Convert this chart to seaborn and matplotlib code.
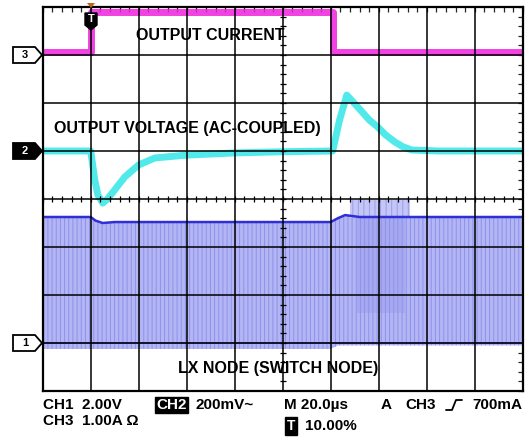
import numpy as np
import matplotlib.pyplot as plt
from matplotlib.patches import Polygon
from matplotlib.lines import Line2D
import seaborn as sns

# scope settings
T_PER_DIV = 20.0      # us / div
CUR_PER_DIV = 1.0     # A / div   (CH3)
VOUT_PER_DIV = 200.0  # mV / div  (CH2)
LX_PER_DIV = 2.0      # V / div   (CH1)
CUR_REF, VOUT_REF, LX_REF = 7, 5, 1   # ground markers (div)

# CH3 output current (A)
cur_t = [-20, 0, 0, 100.8, 100.8, 180]
cur_a = [0.07, 0.07, 0.9, 0.9, 0.07, 0.07]

# CH2 output voltage, ac-coupled (mV)
vout_t = [-20, 0, 1.7, 3, 5, 7, 10, 14.2, 20, 26.7, 40, 60, 80, 100.8,
          103.7, 106.7, 111.3, 116, 119.6, 123, 126.7, 130, 133.8, 145, 180]
vout_mv = [0, 0, -121, -183, -217, -200, -162, -108, -58, -29, -17, -8, -3, 0,
           129, 233, 183, 130, 100, 66, 38, 18, 4, 0, 0]

# CH1 LX switch node envelope (V)
lx_t = [-20, 0, 2, 5, 10, 100, 103, 106, 112, 180]
lx_top = [5.25, 5.25, 5.1, 5.0, 5.04, 5.04, 5.2, 5.33, 5.25, 5.25]
lx_bot = [-0.25, -0.25, -0.25, -0.25, -0.25, -0.25, -0.1, -0.1, -0.1, -0.1]
lx_burst_t = [108, 133]
lx_burst_top = [5.96, 5.96]
lx_dense_t = [111, 131]
lx_dense_lo = [1.25, 1.25]

W, H = 532, 437


def fx(px):
    return px / W


def fy(py):
    return 1 - py / H


sns.set_style("white")
plt.rcParams["font.family"] = ["Liberation Sans", "DejaVu Sans"]
plt.rcParams["hatch.linewidth"] = 0.7

fig = plt.figure(figsize=(W / 100, H / 100), dpi=100)
ax = fig.add_axes([fx(42.7), 1 - 391 / H, 480 / W, 384 / H])

t_cur = np.array(cur_t)
y_cur = CUR_REF + np.array(cur_a) / CUR_PER_DIV
y_vout = VOUT_REF + np.array(vout_mv) / VOUT_PER_DIV
y_lx_top = LX_REF + np.array(lx_top) / LX_PER_DIV
y_lx_bot = LX_REF + np.array(lx_bot) / LX_PER_DIV

# LX switching fill
ax.fill_between(lx_t, y_lx_bot, y_lx_top, facecolor="#b3b6f3", edgecolor="#8d91ec",
                hatch="||||", linewidth=0, zorder=1)
ax.fill_between(lx_burst_t, LX_REF + np.array(lx_burst_top) / LX_PER_DIV,
                [LX_REF + 5.2 / LX_PER_DIV] * 2, facecolor="#c4c6f5", edgecolor="#9a9eee",
                hatch="|||", linewidth=0, zorder=1)
ax.fill_between(lx_dense_t, LX_REF + np.array(lx_dense_lo) / LX_PER_DIV,
                [LX_REF + 5.25 / LX_PER_DIV] * 2, facecolor="#8f93ea", alpha=0.35,
                linewidth=0, zorder=1)
sns.lineplot(x=lx_t, y=y_lx_top, ax=ax, color="#2f2fd6", lw=1.8,
             estimator=None, sort=False, zorder=2)
sns.lineplot(x=lx_t, y=[LX_REF] * len(lx_t), ax=ax, color="#4a4ae0", lw=1.2,
             estimator=None, sort=False, zorder=2)

# output voltage
sns.lineplot(x=vout_t, y=y_vout, ax=ax, color="#34e6e8", lw=5, alpha=0.85,
             estimator=None, sort=False, zorder=3)
# output current
sns.lineplot(x=t_cur, y=y_cur, ax=ax, color="#ee22dd", lw=5, alpha=0.85,
             estimator=None, sort=False, zorder=3)

# graticule
ax.set_xlim(-20, 180)
ax.set_ylim(0, 8)
for k in range(1, 10):
    ax.axvline(-20 + k * T_PER_DIV, color="black", lw=1.1, zorder=5)
for k in range(1, 8):
    ax.axhline(k, color="black", lw=1.1, zorder=5)
for s in ax.spines.values():
    s.set_linewidth(1.6)
    s.set_color("black")
    s.set_zorder(6)
ax.set_xticks(np.arange(-20, 180.1, 4))
ax.set_yticks(np.arange(0, 8.01, 0.2))
ax.tick_params(direction="in", length=3.5, width=0.9, top=True, right=True,
               labelbottom=False, labelleft=False)
cx = np.arange(-20, 180.1, 4)
ax.plot(cx, [4] * len(cx), ls="none", marker="|", ms=5, mew=0.9, color="black", zorder=5)
cy = np.arange(0, 8.01, 0.2)
ax.plot([80] * len(cy), cy, ls="none", marker="_", ms=5, mew=0.9, color="black", zorder=5)
ax.set_xlabel("")
ax.set_ylabel("")

# trace labels
lab = dict(fontsize=11.5, fontweight="bold", color="black", va="center", zorder=7)
ax.text(18.75, (391 - 35) / 48, "OUTPUT CURRENT", ha="left", **lab)
ax.text(-15.4, (391 - 128.5) / 48, "OUTPUT VOLTAGE (AC-COUPLED)", ha="left", **lab)
ax.text(36.25, (391 - 368) / 48, "LX NODE (SWITCH NODE)", ha="left", **lab)


# channel markers
def marker(y, label, filled):
    pts = [(13, y - 8), (35, y - 8), (42, y), (35, y + 8), (13, y + 8)]
    fig.add_artist(Polygon([(fx(a), fy(b)) for a, b in pts], closed=True,
                           transform=fig.transFigure,
                           facecolor="black" if filled else "white",
                           edgecolor="black", lw=1.3))
    fig.text(fx(25), fy(y), label, ha="center", va="center", fontsize=8,
             fontweight="bold", color="white" if filled else "black")


marker(55, "3", False)
marker(151, "2", True)
marker(343, "1", False)

# trigger marker
fig.add_artist(Polygon([(fx(a), fy(b)) for a, b in
                        [(85, 13), (97, 13), (97, 25), (91, 30), (85, 25)]],
                       closed=True, transform=fig.transFigure, facecolor="black",
                       edgecolor="black", lw=1))
fig.text(fx(91), fy(19.5), "T", ha="center", va="center", fontsize=8,
         fontweight="bold", color="white")
fig.add_artist(Polygon([(fx(a), fy(b)) for a, b in [(87, 3), (95, 3), (91, 8)]],
                       closed=True, transform=fig.transFigure, facecolor="#b86a10",
                       edgecolor="none"))

# readout
bt = dict(fontsize=11, fontweight="bold", color="black", va="center")
fig.text(fx(43), fy(405), "CH1  2.00V", ha="left", **bt)
fig.text(fx(43), fy(421), "CH3  1.00A \u03a9", ha="left", **bt)
fig.text(fx(156), fy(405), "CH2", ha="left", fontsize=11, fontweight="bold",
         color="white", va="center",
         bbox=dict(boxstyle="square,pad=0.08", fc="black", ec="black"))
fig.text(fx(196), fy(405), "200mV~", ha="left", **bt)
fig.text(fx(284), fy(405), "M 20.0\u00b5s", ha="left", **bt)
fig.text(fx(381), fy(405), "A", ha="left", **bt)
fig.text(fx(405), fy(405), "CH3", ha="left", **bt)
fig.add_artist(Line2D([fx(446), fx(452), fx(456), fx(462)],
                      [fy(410), fy(410), fy(400), fy(400)],
                      transform=fig.transFigure, color="black", lw=1.3))
fig.text(fx(522), fy(405), "700mA", ha="right", **bt)
fig.text(fx(287), fy(426), "T", ha="left", fontsize=10, fontweight="bold",
         color="white", va="center",
         bbox=dict(boxstyle="square,pad=0.12", fc="black", ec="black"))
fig.text(fx(305), fy(426), "10.00%", ha="left", **bt)

fig.savefig("out.png", dpi=100)
